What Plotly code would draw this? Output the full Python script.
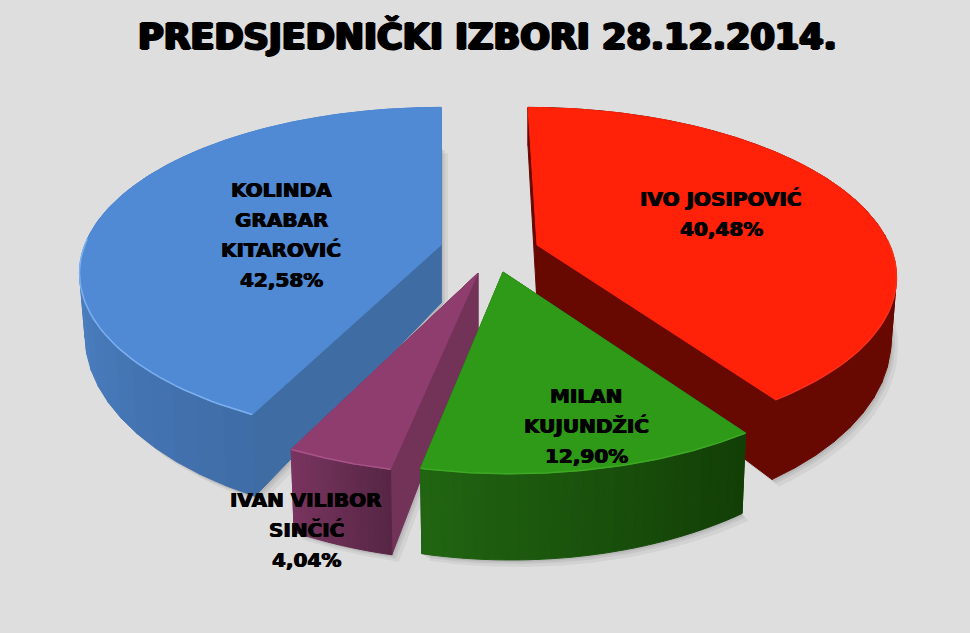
import numpy as np
import plotly.graph_objects as go

# data, clockwise from twelve o'clock
names = ["IVO JOSIPOVIĆ", "MILAN KUJUNDŽIĆ", "IVAN VILIBOR SINČIĆ", "KOLINDA GRABAR KITAROVIĆ"]
shares = [40.48, 12.90, 4.04, 42.58]
title = "PREDSJEDNIČKI IZBORI 28.12.2014."

# label line breaks
name_lines = [["IVO JOSIPOVIĆ"], ["MILAN", "KUJUNDŽIĆ"], ["IVAN VILIBOR", "SINČIĆ"], ["KOLINDA", "GRABAR", "KITAROVIĆ"]]

# styles / placement per slice
top_colors = ["#FF2108", "#2E9A17", "#8E3D6E", "#5089D4"]
face_colors = ["#670900", "#1A4F0C", "#733358", "#3F6CA3"]
wall_from = ["#670900", "#123E06", "#572645", "#3E6CA6"]
wall_to = ["#670900", "#216512", "#7A3560", "#4F86CB"]
rim_colors = ["#F8301A", "#3FA825", "#A8548A", "#7CB0F0"]
apex_x = [537, 503, 478, 441]
apex_y = [245, 272, 273, 245]
centre_x = [537, 511, 481, 441]
skew = [-9, 0, 0, 0]
scale_x = [0.985, 1.0, 1.0, 0.995]
scale_y = [1.0, 1.04, 1.04, 1.0]
label_x = [721, 586, 306, 281]
label_y = [199, 396, 500, 190]
draw_order = [3, 0, 2, 1]

BG = "#DEDEDE"
RX, RY, P, H = 358.0, 161.0, 0.17, 58.0


def project(i, ang, bottom=False):
    a = np.radians(ang)
    X, Y = np.sin(a), np.cos(a)
    w = 1 + P * Y
    kx = 0.985 if bottom else 1.0
    ky = 1.14 if bottom else 1.0
    sx = centre_x[i] + scale_x[i] * kx * RX * X / w + skew[i] * Y
    sy = apex_y[i] - scale_y[i] * ky * RY * Y / w + (H if bottom else 0)
    return sx, sy


def mix(c1, c2, t):
    a = [int(c1[j:j + 2], 16) for j in (1, 3, 5)]
    b = [int(c2[j:j + 2], 16) for j in (1, 3, 5)]
    return "#" + "".join(f"{round(u + (v - u) * t):02X}" for u, v in zip(a, b))


fig = go.Figure()


def poly(xs, ys, color, line=None, name=None):
    fig.add_trace(go.Scatter(
        x=list(xs), y=list(ys), mode="lines", fill="toself", fillcolor=color,
        line=dict(color=line or color, width=1), hoverinfo="skip", showlegend=False,
        name=name,
    ))


cum = np.cumsum([0] + shares) / sum(shares) * 360
for i in draw_order:
    a0, a1 = cum[i], cum[i + 1]
    ax, ay = apex_x[i], apex_y[i]
    # soft shadow on the background
    arc_b = [project(i, q, True) for q in np.linspace(a0, a1, 60)]
    for off, alpha in ((7, 0.05), (4, 0.06), (2, 0.07)):
        sx = [ax + off] + [p[0] + off for p in arc_b] + [ax + off]
        sy = [ay + H + off] + [p[1] + off for p in arc_b] + [ay + H + off]
        fig.add_trace(go.Scatter(x=sx, y=sy, mode="lines", fill="toself",
                                 fillcolor=f"rgba(0,0,0,{alpha})", line=dict(width=0),
                                 hoverinfo="skip", showlegend=False))
    # cut faces
    for ang in (a0, a1):
        tx, ty = project(i, ang)
        bx, by = project(i, ang, True)
        poly([ax, tx, bx, ax, ax], [ay, ty, by, ay + H, ay], face_colors[i])
    # outer wall, drawn in bands from back to front
    edges = np.linspace(a0, a1, 33)
    depth = np.argsort(-np.cos(np.radians((edges[:-1] + edges[1:]) / 2)))
    for k in depth:
        u, v = edges[k], edges[k + 1]
        tx0, ty0 = project(i, u)
        tx1, ty1 = project(i, v)
        bx0, by0 = project(i, u, True)
        bx1, by1 = project(i, v, True)
        t = (k + 0.5) / 32
        if i == 3:
            t = min(1.0, t * 2.2)
        poly([tx0, tx1, bx1, bx0, tx0], [ty0, ty1, by1, by0, ty0], mix(wall_from[i], wall_to[i], t))
    # top surface
    arc = np.linspace(a0, a1, 90)
    pts = [project(i, q) for q in arc]
    poly([ax] + [p[0] for p in pts] + [ax], [ay] + [p[1] for p in pts] + [ay], top_colors[i], name=names[i])
    # lighter rim along the front of the top surface
    front = [p for p, q in zip(pts, arc) if np.cos(np.radians(q)) < 0.05]
    fig.add_trace(go.Scatter(x=[p[0] for p in front], y=[p[1] for p in front], mode="lines",
                             line=dict(color=rim_colors[i], width=1.5), hoverinfo="skip", showlegend=False))

annotations = [dict(x=487, y=36, text=title, showarrow=False, xanchor="center", yanchor="middle",
                    font=dict(family="DejaVu Sans", size=35, color="#000000", weight=700,
                              shadow="1.5px 0 0 #000, -1.5px 0 0 #000, 0 1.2px 0 #000, 0 -1.2px 0 #000"))]
for i in range(4):
    value = f"{shares[i]:.2f}".replace(".", ",") + "%"
    for j, line in enumerate(name_lines[i] + [value]):
        annotations.append(dict(x=label_x[i], y=label_y[i] + j * 30, text=line, showarrow=False,
                                xanchor="center", yanchor="middle",
                                font=dict(family="DejaVu Sans", size=20, color="#000000", weight=700,
                                          shadow="0.6px 0 0 #000, -0.6px 0 0 #000")))

fig.update_layout(
    width=970, height=633, margin=dict(l=0, r=0, t=0, b=0),
    paper_bgcolor=BG, plot_bgcolor=BG, showlegend=False, annotations=annotations,
    xaxis=dict(range=[0, 970], visible=False, fixedrange=True),
    yaxis=dict(range=[633, 0], visible=False, fixedrange=True),
)
fig.write_html("out.html", post_script="document.body.style.margin='0';document.body.style.background='#DEDEDE';document.documentElement.style.overflow='hidden';", config={"displayModeBar": False})
